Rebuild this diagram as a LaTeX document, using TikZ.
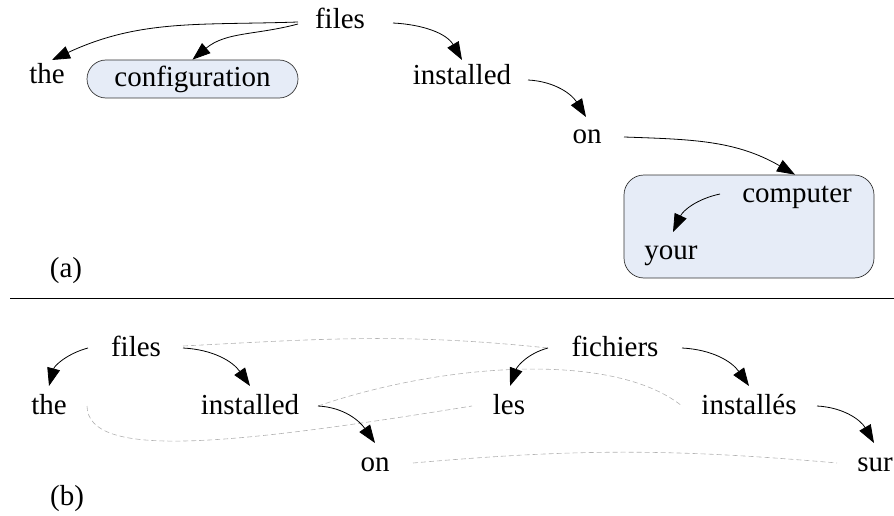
\documentclass[tikz,border=0pt]{standalone}
\usepackage{fontspec}
\setmainfont{Liberation Serif}
\usetikzlibrary{arrows.meta}
\definecolor{boxfill}{RGB}{230,236,247}
\begin{document}
\begin{tikzpicture}[x=1pt,y=1pt,
  word/.style={anchor=base,inner sep=0pt,font=\fontsize{29}{32}\selectfont},
  arr/.style={-{Triangle[length=18pt,width=13pt]},line width=0.8pt},
  dsh/.style={gray!60,dash pattern=on 5pt off 3pt,line width=0.6pt},
  grp/.style={draw=black!80,fill=boxfill,line width=0.7pt}]
\useasboundingbox (0,0) rectangle (894,-516);
% ---------- (a)
\node[word] (afiles) at (340,-29) {files};
\node[word] (athe) at (47,-84) {the};
\node[grp,rounded corners=19pt,minimum width=211pt,minimum height=38pt,inner sep=0pt,
  font=\fontsize{29}{32}\selectfont] (acfg) at (192.5,-79) {configuration};
\node[word] (ainst) at (462,-85) {installed};
\node[word] (aon) at (587,-144) {on};
\node[grp,rounded corners=20pt,minimum width=250pt,minimum height=103pt] (aclu) at (749,-226.5) {};
\node[word] (acomp) at (797,-202) {computer};
\node[word] (ayour) at (671,-259) {your};
\node[word] (laba) at (66,-277) {(a)};
\draw[arr] ([shift={(-42,7)}]afiles.base) to[out=182,in=25] ([shift={(5,24)}]athe.base);
\draw[arr] ([shift={(-42,5)}]afiles.base) to[out=195,in=40] (acfg.north);
\draw[arr] ([shift={(53,6)}]afiles.base) to[out=-3,in=120] ([shift={(0,25)}]ainst.base);
\draw[arr] ([shift={(66,5)}]ainst.base) to[out=-3,in=122] ([shift={(-1,27)}]aon.base);
\draw[arr] ([shift={(37,7)}]aon.base) to[out=-2,in=150] ([shift={(46,0)}]aclu.north);
\draw[arr] ([shift={(-77,8)}]acomp.base) to[out=192,in=65] ([shift={(2,27)}]ayour.base);
% separator
\coordinate (sepl) at (10,-298);
\coordinate (sepr) at (894,-298);
\draw[line width=0.8pt] (sepl) -- (sepr);
% ---------- (b)
\node[word] (bfiles) at (136,-356) {files};
\node[word] (bthe) at (49,-414) {the};
\node[word] (binst) at (250,-414) {installed};
\node[word] (bon) at (375,-471) {on};
\node[word] (labb) at (67,-505) {(b)};
\node[word] (bfich) at (615,-356) {fichiers};
\node[word] (bles) at (509,-414) {les};
\node[word] (binsts) at (749,-414) {installés};
\node[word] (bsur) at (875,-471) {sur};
% alignment links
\draw[dsh] ([shift={(47,10)}]bfiles.base) to[out=3,in=174] ([shift={(-67,8)}]bfich.base);
\draw[dsh] ([shift={(68,8)}]binst.base) .. controls +(122,42) and +(-70,56) .. ([shift={(-67,8)}]binsts.base);
\draw[dsh] ([shift={(38,8)}]bthe.base) .. controls +(1,-54) and +(-242,-39) .. ([shift={(-37,8)}]bles.base);
\draw[dsh] ([shift={(38,8)}]bon.base) to[out=5,in=175] ([shift={(-38,8)}]bsur.base);
% dependency arrows
\draw[arr] ([shift={(-48,8)}]bfiles.base) to[out=195,in=75] ([shift={(0,28)}]bthe.base);
\draw[arr] ([shift={(47,8)}]bfiles.base) to[out=-3,in=125] ([shift={(0,28)}]binst.base);
\draw[arr] ([shift={(68,8)}]binst.base) to[out=-3,in=125] ([shift={(0,28)}]bon.base);
\draw[arr] ([shift={(-67,8)}]bfich.base) to[out=195,in=70] ([shift={(1,28)}]bles.base);
\draw[arr] ([shift={(67,8)}]bfich.base) to[out=-3,in=125] ([shift={(0,28)}]binsts.base);
\draw[arr] ([shift={(68,8)}]binsts.base) to[out=-3,in=120] ([shift={(-1,28)}]bsur.base);
\end{tikzpicture}
\end{document}
